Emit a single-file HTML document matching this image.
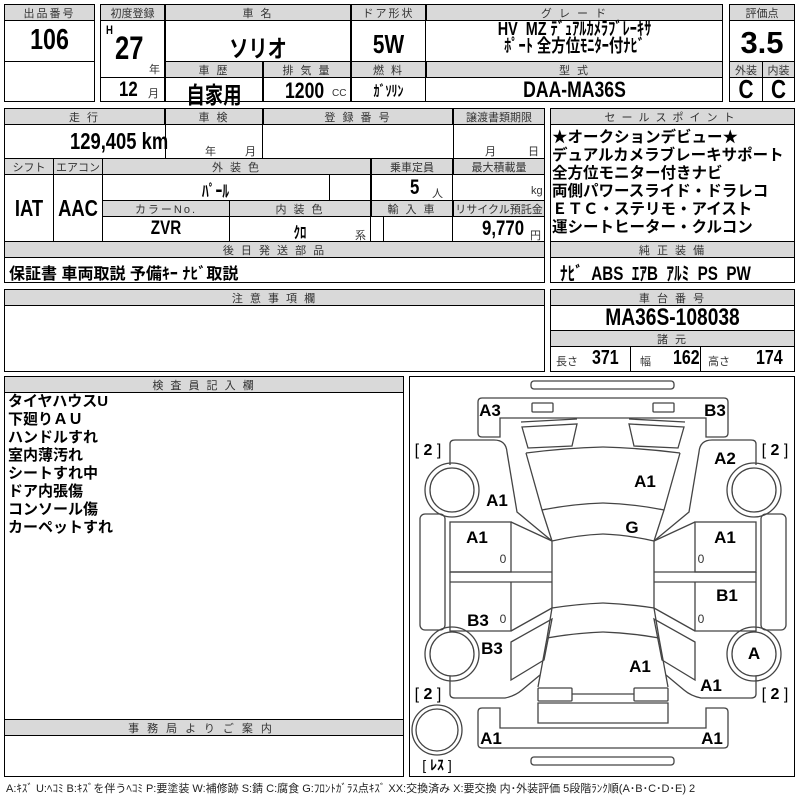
<!DOCTYPE html>
<html><head><meta charset="utf-8"><style>
body{margin:0;width:800px;height:800px;background:#fff;position:relative;overflow:hidden;font-family:"Liberation Sans","Noto Sans CJK JP",sans-serif;color:#000}
.b{position:absolute;border:1px solid #000;box-sizing:border-box}
.o{position:absolute;border:1.5px solid #000;box-sizing:border-box}
.h{background:#d9d9d9;font-size:11px;color:#333;display:flex;align-items:center;justify-content:center;letter-spacing:2px;font-family:"Liberation Sans","Noto Sans CJK JP",sans-serif}
.t{position:absolute;white-space:nowrap;font-weight:bold;font-family:"Liberation Sans","Noto Sans CJK JP",sans-serif;transform:scaleX(.8);transform-origin:left center}
.t.c{transform-origin:center center}
.s{position:absolute;white-space:nowrap;font-size:11px;color:#333;font-family:"Liberation Sans","Noto Sans CJK JP",sans-serif}
.j{position:absolute;white-space:nowrap;font-weight:bold;font-size:15px;font-family:"Liberation Sans","Noto Sans CJK JP",sans-serif}
</style></head><body>
<!-- block 1 -->
<div class="o" style="left:4px;top:4px;width:91px;height:98px"></div>
<div class="b h" style="left:4px;top:4px;width:91px;height:17px">出品番号</div>
<div class="b" style="left:4px;top:61px;width:91px;height:1px;border-width:1px 0 0"></div>
<div class="t c" style="left:4px;top:24px;width:91px;text-align:center;font-size:29px">106</div>
<!-- block 2 -->
<div class="o" style="left:100px;top:4px;width:623px;height:98px"></div>
<div class="b h" style="left:100px;top:4px;width:65px;height:17px;letter-spacing:0">初度登録</div>
<div class="b h" style="left:165px;top:4px;width:186px;height:17px">車 名</div>
<div class="b h" style="left:351px;top:4px;width:75px;height:17px">ドア形状</div>
<div class="b h" style="left:426px;top:4px;width:297px;height:17px">グ レ ー ド</div>
<div class="b" style="left:100px;top:20px;width:65px;height:58px"></div>
<div class="b" style="left:165px;top:20px;width:186px;height:42px"></div>
<div class="b" style="left:351px;top:20px;width:75px;height:42px"></div>
<div class="b h" style="left:165px;top:61px;width:98px;height:17px">車 歴</div>
<div class="b h" style="left:263px;top:61px;width:88px;height:17px">排 気 量</div>
<div class="b h" style="left:351px;top:61px;width:75px;height:17px">燃 料</div>
<div class="b h" style="left:426px;top:61px;width:297px;height:17px">型 式</div>
<div class="b" style="left:100px;top:77px;width:65px;height:25px"></div>
<div class="b" style="left:165px;top:77px;width:98px;height:25px"></div>
<div class="b" style="left:263px;top:77px;width:88px;height:25px"></div>
<div class="b" style="left:351px;top:77px;width:75px;height:25px"></div>
<div class="t" style="left:106px;top:23px;font-size:12px">H</div>
<div class="t" style="left:115px;top:30px;font-size:32px">27</div>
<div class="s" style="left:149px;top:61px">年</div>
<div class="t" style="left:119px;top:78px;font-size:21px">12</div>
<div class="s" style="left:148px;top:85px">月</div>
<div class="t c" style="left:165px;top:29px;width:186px;text-align:center;font-size:24px">ソリオ</div>
<div class="t c" style="left:351px;top:29px;width:75px;text-align:center;font-size:26px">5W</div>
<div class="t c" style="left:165px;top:76px;width:98px;text-align:center;font-size:23px">自家用</div>
<div class="t" style="left:285px;top:78px;font-size:22px">1200</div>
<div class="s" style="left:332px;top:88px;font-size:10px">CC</div>
<div class="t c" style="left:351px;top:80px;width:75px;text-align:center;font-size:15px">ｶﾞｿﾘﾝ</div>
<div class="t c" style="left:426px;top:21px;width:297px;text-align:center;font-size:18px;line-height:17px">HV&nbsp; MZ ﾃﾞｭｱﾙｶﾒﾗﾌﾞﾚｰｷｻ<br>ﾎﾟｰﾄ 全方位ﾓﾆﾀｰ付ﾅﾋﾞ</div>
<div class="t c" style="left:426px;top:77px;width:297px;text-align:center;font-size:22px">DAA-MA36S</div>
<!-- block 3 -->
<div class="o" style="left:729px;top:4px;width:66px;height:98px"></div>
<div class="b h" style="left:729px;top:4px;width:66px;height:17px;letter-spacing:0">評価点</div>
<div class="b h" style="left:729px;top:61px;width:34px;height:17px;letter-spacing:0">外装</div>
<div class="b h" style="left:762px;top:61px;width:33px;height:17px;letter-spacing:0">内装</div>
<div class="b" style="left:729px;top:77px;width:34px;height:25px"></div>
<div class="t c" style="left:729px;top:25px;width:66px;text-align:center;font-size:31px;transform:none">3.5</div>
<div class="t c" style="left:729px;top:74px;width:34px;text-align:center;font-size:26px">C</div>
<div class="t c" style="left:762px;top:74px;width:33px;text-align:center;font-size:26px">C</div>
<!-- block 4 -->
<div class="o" style="left:4px;top:108px;width:541px;height:175px"></div>
<div class="b h" style="left:4px;top:108px;width:161px;height:17px">走 行</div>
<div class="b h" style="left:165px;top:108px;width:98px;height:17px">車 検</div>
<div class="b h" style="left:263px;top:108px;width:190px;height:17px">登 録 番 号</div>
<div class="b h" style="left:453px;top:108px;width:92px;height:17px;letter-spacing:0">譲渡書類期限</div>
<div class="b" style="left:165px;top:124px;width:98px;height:35px"></div>
<div class="b" style="left:453px;top:124px;width:92px;height:35px"></div>
<div class="t" style="left:70px;top:128px;font-size:23px">129,405 km</div>
<div class="s" style="left:205px;top:143px">年</div><div class="s" style="left:245px;top:143px">月</div>
<div class="s" style="left:485px;top:143px">月</div><div class="s" style="left:528px;top:143px">日</div>
<div class="b h" style="left:4px;top:158px;width:50px;height:17px;letter-spacing:0">シフト</div>
<div class="b h" style="left:53px;top:158px;width:50px;height:17px;letter-spacing:0">エアコン</div>
<div class="b h" style="left:102px;top:158px;width:269px;height:17px">外 装 色</div>
<div class="b h" style="left:371px;top:158px;width:82px;height:17px;letter-spacing:0">乗車定員</div>
<div class="b h" style="left:453px;top:158px;width:92px;height:17px;letter-spacing:0">最大積載量</div>
<div class="b" style="left:4px;top:174px;width:50px;height:68px"></div>
<div class="b" style="left:53px;top:174px;width:50px;height:68px"></div>
<div class="b" style="left:329px;top:174px;width:42px;height:27px"></div>
<div class="b" style="left:371px;top:174px;width:82px;height:27px"></div>
<div class="b h" style="left:102px;top:200px;width:128px;height:17px">カラーNo.</div>
<div class="b h" style="left:229px;top:200px;width:142px;height:17px">内 装 色</div>
<div class="b h" style="left:371px;top:200px;width:82px;height:17px">輸 入 車</div>
<div class="b h" style="left:453px;top:200px;width:92px;height:17px;letter-spacing:0">リサイクル預託金</div>
<div class="b" style="left:229px;top:216px;width:142px;height:26px"></div>
<div class="b" style="left:383px;top:216px;width:70px;height:26px"></div>
<div class="t c" style="left:4px;top:195px;width:50px;text-align:center;font-size:23px">IAT</div>
<div class="t c" style="left:53px;top:195px;width:50px;text-align:center;font-size:23px">AAC</div>
<div class="t c" style="left:102px;top:177px;width:227px;text-align:center;font-size:17px">ﾊﾟｰﾙ</div>
<div class="t" style="left:410px;top:176px;font-size:21px">5</div><div class="s" style="left:432px;top:185px">人</div>
<div class="s" style="left:531px;top:185px">kg</div>
<div class="t c" style="left:102px;top:218px;width:128px;text-align:center;font-size:19px">ZVR</div>
<div class="t c" style="left:229px;top:219px;width:142px;text-align:center;font-size:16px">ｸﾛ</div>
<div class="s" style="left:355px;top:227px">系</div>
<div class="t" style="left:482px;top:217px;font-size:21px">9,770</div><div class="s" style="left:530px;top:227px">円</div>
<div class="b h" style="left:4px;top:241px;width:541px;height:17px">後 日 発 送 部 品</div>
<div class="j" style="left:9px;top:260px;font-size:16px">保証書 車両取説 予備ｷｰ ﾅﾋﾞ取説</div>
<!-- block 5 -->
<div class="o" style="left:550px;top:108px;width:245px;height:175px"></div>
<div class="b h" style="left:550px;top:108px;width:245px;height:17px;letter-spacing:6px">セールスポイント</div>
<div class="j" style="left:552px;top:129px;line-height:18px;font-size:15.5px">★オークションデビュー★<br>デュアルカメラブレーキサポート<br>全方位モニター付きナビ<br>両側パワースライド・ドラレコ<br>ＥＴＣ・ステリモ・アイスト<br>運シートヒーター・クルコン</div>
<div class="b h" style="left:550px;top:241px;width:245px;height:17px">純 正 装 備</div>
<div class="t" style="left:560px;top:259px;font-size:19px">ﾅﾋﾞ&nbsp; ABS&nbsp; ｴｱB&nbsp; ｱﾙﾐ&nbsp; PS&nbsp; PW</div>
<!-- block 6 -->
<div class="o" style="left:4px;top:289px;width:541px;height:83px"></div>
<div class="b h" style="left:4px;top:289px;width:541px;height:17px">注 意 事 項 欄</div>
<!-- block 7 -->
<div class="o" style="left:550px;top:289px;width:245px;height:83px"></div>
<div class="b h" style="left:550px;top:289px;width:245px;height:17px">車 台 番 号</div>
<div class="t c" style="left:550px;top:304px;width:245px;text-align:center;font-size:24px">MA36S-108038</div>
<div class="b h" style="left:550px;top:330px;width:245px;height:17px">諸 元</div>
<div class="b" style="left:630px;top:346px;width:71px;height:26px"></div>
<div class="s" style="left:556px;top:353px">長さ</div><div class="t" style="left:592px;top:347px;font-size:20px">371</div>
<div class="s" style="left:640px;top:353px">幅</div><div class="t" style="left:673px;top:347px;font-size:20px">162</div>
<div class="s" style="left:708px;top:353px">高さ</div><div class="t" style="left:756px;top:347px;font-size:20px">174</div>
<!-- block 8 -->
<div class="o" style="left:4px;top:376px;width:400px;height:401px"></div>
<div class="b h" style="left:4px;top:376px;width:400px;height:17px">検 査 員 記 入 欄</div>
<div class="j" style="left:8px;top:393px;line-height:18px">タイヤハウスU<br>下廻りＡＵ<br>ハンドルすれ<br>室内薄汚れ<br>シートすれ中<br>ドア内張傷<br>コンソール傷<br>カーペットすれ</div>
<div class="b h" style="left:4px;top:719px;width:400px;height:17px;letter-spacing:8px">事務局よりご案内</div>
<!-- block 9 -->
<div class="o" style="left:409px;top:376px;width:386px;height:401px"></div>
<svg style="position:absolute;left:0;top:0" width="800" height="800">
<g fill="none" stroke="#444" stroke-width="1.3">
<rect x="531" y="381" width="143" height="8" rx="3"/>
<rect x="531" y="757" width="143" height="8" rx="3"/>
<g id="L">
<path d="M603,398 L482,398 Q478,398 478,402 L478,433 Q478,437 482,437 L500,437 L500,418 L603,418"/>
<rect x="532" y="403" width="21" height="9" rx="1"/>
<path d="M522,427 L577,424 L572,446 L528,448 Z M521,422 L577,419"/>
<path d="M450,465 L450,444 Q450,440 455,440 L494,440 Q506,440 507,452 L517,512 L552,541"/>
<path d="M526,453 Q565,448 603,447 M526,453 L542,510 Q572,504 603,503 M542,510 L552,541"/>
<path d="M552,541 Q578,535 603,534 M552,541 L552,608 Q578,604 603,603"/>
<rect x="450" y="522" width="61" height="50"/>
<path d="M511,522 L552,541 M450,572 L552,572 M450,582 L552,582 M450,572 L450,631 L511,631 L511,582 M511,631 L552,608"/>
<path d="M552,608 L547,638 L538,687 M547,638 Q575,633 603,632"/>
<path d="M511,642 L552,619 L544,660 L511,680 Z"/>
<path d="M450,676 L450,694 Q450,698 455,698 L505,698 Q515,696 522,690 L540,675"/>
<rect x="538" y="688" width="34" height="13" rx="1"/>
<path d="M572,694 L603,694 M603,703 L538,703 L538,723 L603,723"/>
<path d="M603,748 L482,748 Q478,748 478,744 L478,712 Q478,708 482,708 L500,708 L500,728 L603,728"/>
<rect x="420" y="514" width="25" height="116" rx="5"/>
<circle cx="452" cy="490" r="27"/><circle cx="452" cy="490" r="22"/>
<circle cx="452" cy="654" r="27"/><circle cx="452" cy="654" r="22"/>
</g>
<use href="#L" transform="translate(1206,0) scale(-1,1)"/>
<circle cx="437" cy="730" r="25"/><circle cx="437" cy="730" r="21"/>
</g>
<g font-family="Liberation Sans, sans-serif" font-weight="bold" font-size="17" text-anchor="middle" fill="#000">
<text x="490" y="416">A3</text><text x="715" y="416">B3</text>
<text x="725" y="464">A2</text><text x="645" y="487">A1</text>
<text x="497" y="506">A1</text><text x="632" y="533">G</text>
<text x="477" y="543">A1</text><text x="725" y="543">A1</text>
<text x="727" y="601">B1</text><text x="478" y="626">B3</text>
<text x="492" y="654">B3</text><text x="754" y="659">A</text>
<text x="640" y="672">A1</text><text x="711" y="691">A1</text>
<text x="491" y="744">A1</text><text x="712" y="744">A1</text>
</g>
<g font-family="Liberation Sans, sans-serif" font-size="12" text-anchor="middle" fill="#333">
<text x="503" y="563">0</text><text x="701" y="563">0</text>
<text x="503" y="623">0</text><text x="701" y="623">0</text>
</g>
<g font-family="Liberation Sans, Noto Sans CJK JP, sans-serif" font-size="16" text-anchor="middle" fill="#000">
<text x="428" y="455">[ <tspan font-weight="bold">2</tspan> ]</text>
<text x="775" y="455">[ <tspan font-weight="bold">2</tspan> ]</text>
<text x="428" y="699">[ <tspan font-weight="bold">2</tspan> ]</text>
<text x="775" y="699">[ <tspan font-weight="bold">2</tspan> ]</text>
<text x="437" y="770" font-size="14">[ <tspan font-weight="bold">ﾚｽ</tspan> ]</text>
</g>
</svg>
<div class="s" style="left:6px;top:780px;font-size:11px;color:#222">A:ｷｽﾞ U:ﾍｺﾐ B:ｷｽﾞを伴うﾍｺﾐ P:要塗装 W:補修跡 S:錆 C:腐食 G:ﾌﾛﾝﾄｶﾞﾗｽ点ｷｽﾞ XX:交換済み X:要交換 内･外装評価 5段階ﾗﾝｸ順(A･B･C･D･E) 2</div>
</body></html>
